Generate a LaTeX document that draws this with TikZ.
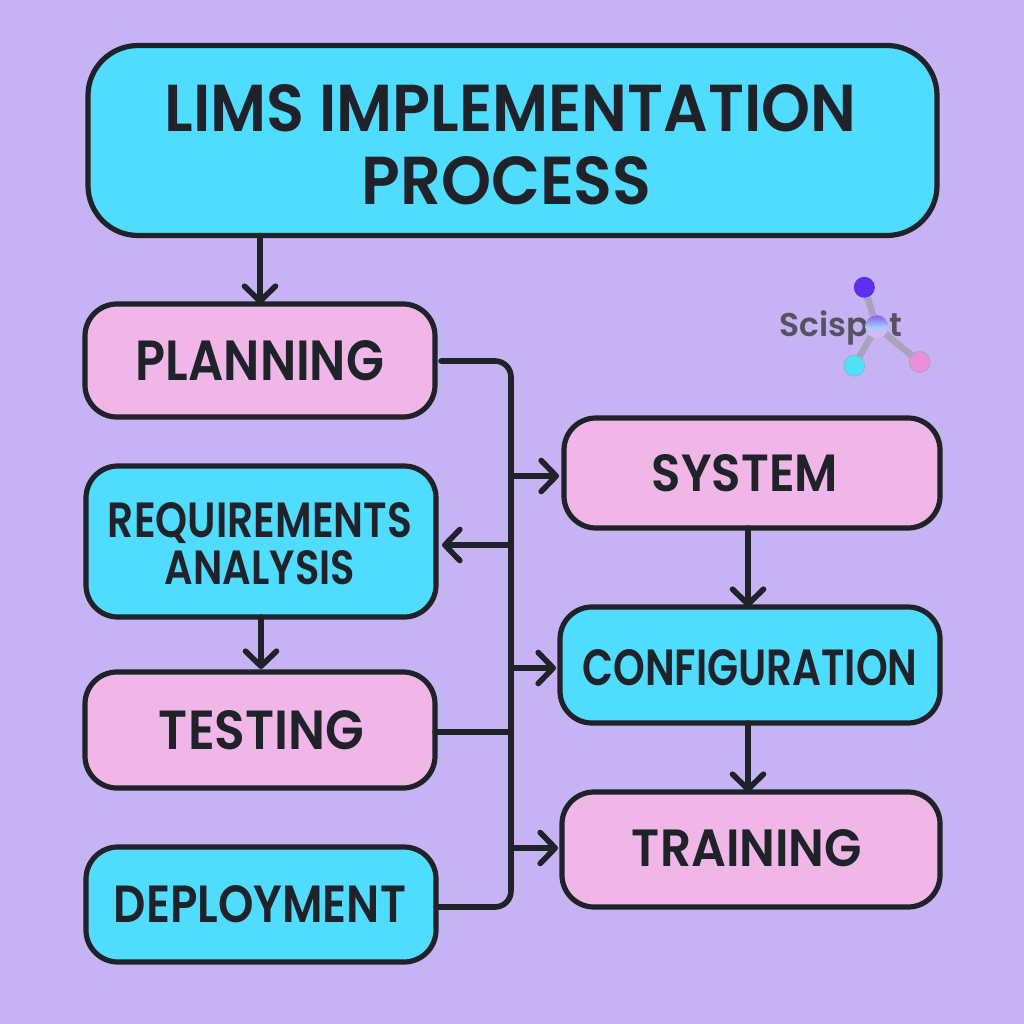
\documentclass[tikz,border=0pt]{standalone}
\usepackage{fontspec}
\usepackage{graphicx}
\setmainfont{Poppins}[UprightFont=* SemiBold]
\usetikzlibrary{arrows.meta,calc}
\definecolor{bgc}{HTML}{C5B3F3}
\definecolor{cyanc}{HTML}{4FDCFF}
\definecolor{pinkc}{HTML}{F0B6E8}
\definecolor{inkc}{HTML}{1F2229}
\definecolor{logoline}{HTML}{A8A2BC}
\definecolor{logotext}{HTML}{565163}
\definecolor{logopurple}{HTML}{5B30F0}
\definecolor{logopink}{HTML}{E88FD8}
\definecolor{logocyan}{HTML}{4FE0FA}
\definecolor{logotop}{HTML}{8A5CF0}
\definecolor{logomid}{HTML}{A8C8FA}
\definecolor{logobot}{HTML}{EDB4E8}
\newcommand\fitw[3]{\resizebox{#1pt}{#2pt}{#3}}
\tikzset{
  x=1pt,y=-1pt,
  boxs/.style={draw=inkc,line width=5.2pt,rounded corners=#1,inner sep=0pt,outer sep=0pt},
  boxs/.default=32pt,
  cyanbox/.style={boxs=#1,fill=cyanc},
  cyanbox/.default=32pt,
  pinkbox/.style={boxs=#1,fill=pinkc},
  pinkbox/.default=32pt,
  txt/.style={text=inkc,inner sep=0pt,outer sep=0pt,align=center},
  conn/.style={draw=inkc,line width=5.6pt,line cap=round,line join=round},
  arr/.style={conn,-{Straight Barb[length=15pt,width=31pt,line width=5.6pt,round]}},
  dot/.style={circle,inner sep=0pt,minimum size=#1,outer sep=0pt},
  logol/.style={draw=logoline,line width=6.5pt},
}
\begin{document}
\begin{tikzpicture}
\useasboundingbox (0,0) rectangle (1024,1024);
\fill[bgc] (0,0) rectangle (1024,1024);
% boxes
\node[cyanbox=50pt,minimum width=849pt,minimum height=190pt,
  label={[name=titleT,txt,font=\fontsize{60}{73}\selectfont,xshift=-2pt,yshift=-4pt]center:{\fitw{692}{47}{LIMS IMPLEMENTATION}\\\hspace*{-8pt}\fitw{290}{48}{PROCESS}}}]
  (title) at (512.5,140.5) {};
\node[pinkbox,minimum width=350pt,minimum height=113pt,
  label={[name=planningT,txt]center:{\fitw{248}{40}{PLANNING}}}]
  (planning) at (260,360.5) {};
\node[cyanbox,minimum width=350pt,minimum height=151pt,
  label={[name=reqT,txt,font=\fontsize{30}{47}\selectfont,xshift=-1pt,yshift=-2.5pt]center:{\fitw{304}{35}{REQUIREMENTS}\\\fitw{190}{34}{ANALYSIS}}}]
  (req) at (261,541.5) {};
\node[pinkbox,minimum width=350pt,minimum height=116pt,
  label={[name=testingT,txt,xshift=1.5pt]center:{\fitw{205}{39}{TESTING}}}]
  (testing) at (260,730) {};
\node[cyanbox,minimum width=350pt,minimum height=115pt,
  label={[name=deployT,txt,xshift=-1pt]center:{\fitw{292}{37}{DEPLOYMENT}}}]
  (deployment) at (261,904.5) {};
\node[pinkbox,minimum width=376pt,minimum height=110pt,
  label={[name=systemT,txt,xshift=-7pt]center:{\fitw{186}{37}{SYSTEM}}}]
  (system) at (752,473) {};
\node[cyanbox,minimum width=380pt,minimum height=116pt,
  label={[name=configT,txt,yshift=-3pt]center:{\fitw{335}{36}{CONFIGURATION}}}]
  (config) at (750,665) {};
\node[pinkbox,minimum width=378pt,minimum height=115pt,
  label={[name=trainingT,txt,xshift=-4pt,yshift=1pt]center:{\fitw{230}{37}{TRAINING}}}]
  (training) at (751,849.5) {};
% helper coordinates
\coordinate (busTop) at (511,361);
\coordinate (busBot) at (511,907);
\coordinate (jSystem) at (511,476);
\coordinate (jReq) at (511,545);
\coordinate (jConfig) at (511,668);
\coordinate (jTesting) at (511,732);
\coordinate (jTraining) at (511,848);
\coordinate (colA) at (748,0);
% straight arrows
\draw[arr] (title.south -| planning.north) -- (planning.north);
\draw[arr,shorten >=3pt] (req.south) -- (testing.north -| req.south);
\draw[arr] (system.south -| colA) -- (config.north -| colA);
\draw[arr] (config.south -| colA) -- (training.north -| colA);
% bus
\draw[conn,rounded corners=16pt,shorten <=6pt] (planning.east |- busTop) -- (busTop) -- (busBot) -- (deployment.east |- busBot);
\draw[conn] (testing.east |- jTesting) -- (jTesting);
\draw[arr,shorten >=5pt] (jSystem) -- (system.west |- jSystem);
\draw[arr,shorten >=6pt] (jReq) -- (req.east |- jReq);
\draw[arr,shorten >=4pt] (jConfig) -- (config.west |- jConfig);
\draw[arr,shorten >=4pt] (jTraining) -- (training.west |- jTraining);
% logo
\node[text=logotext,inner sep=0pt,anchor=base west] (logoT) at (779.5,336) {\resizebox{123pt}{!}{Scispot}};
\node[dot=21pt,fill=logopurple] (lp) at (864.3,287.3) {};
\node[dot=23pt,top color=logotop,bottom color=logobot,middle color=logomid] (lc) at (876.7,326.7) {};
\node[dot=21pt,fill=logocyan,draw=logoline!70!logocyan,line width=.8pt] (lb) at (854.3,365.7) {};
\node[dot=21pt,fill=logopink,draw=logoline,line width=.8pt] (lk) at (919.7,362) {};
\draw[logol] (lp) -- (lc);
\draw[logol] (lc) -- (lb);
\draw[logol] (lc) -- (lk);
\end{tikzpicture}
\end{document}
